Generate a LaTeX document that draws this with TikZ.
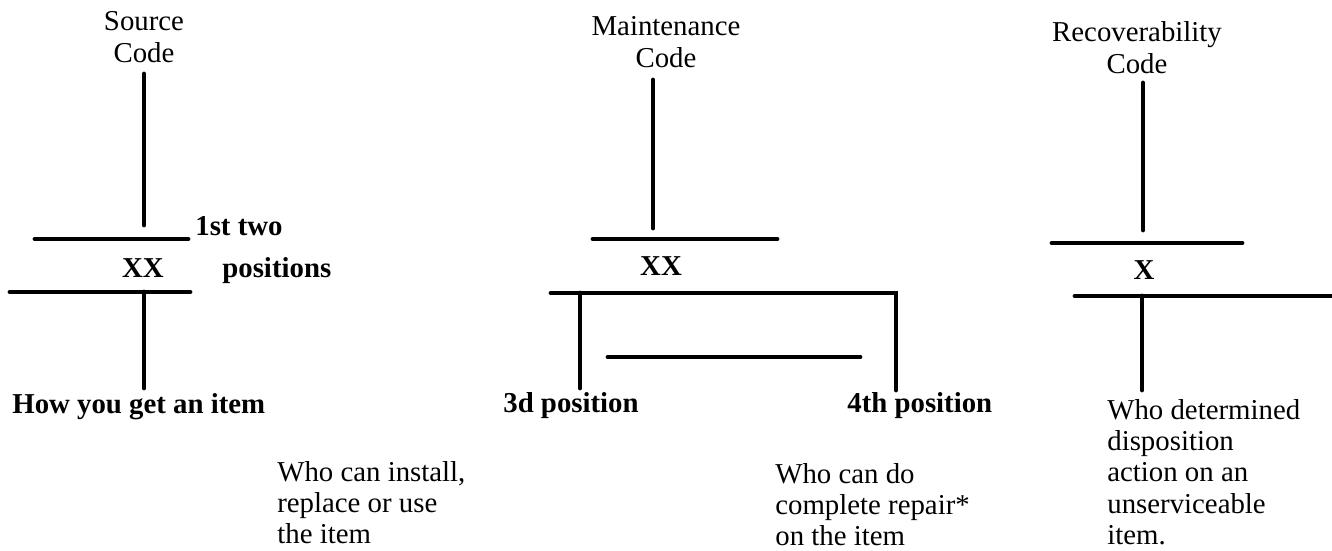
\documentclass[tikz,border=0pt]{standalone}
\usepackage{fontspec}
\setmainfont{Liberation Serif}
\usepackage{tikz}
\usetikzlibrary{calc}
\usetikzlibrary{positioning}
\newcommand{\txtsize}{\fontsize{16.4pt}{18.1pt}\selectfont}
\newcommand{\notesize}{\fontsize{16.4pt}{17.8pt}\selectfont}
\tikzstyle{bar}=[line width=2.8pt, line cap=round, line join=miter]
\tikzstyle{head}=[align=center, inner sep=0, anchor=north, font=\txtsize]
\tikzstyle{poslbl}=[inner sep=0, anchor=base west, font=\txtsize\bfseries]
\tikzstyle{codelbl}=[inner sep=0, anchor=base, font=\txtsize\bfseries]
\tikzstyle{note}=[align=left, inner sep=0, anchor=north west, font=\notesize]

\begin{document}
\begin{tikzpicture}[x=0.02cm, y=-0.02cm]
\useasboundingbox (0,0) rectangle (1332,551);
% source code
\node[head] (src) at (144,11.5) {Source\\Code};
\coordinate (S1) at (144,74);
\coordinate (S2) at (144,225);
\draw[bar] (S1) -- (S2);
\draw[bar] (35,239) coordinate (S3) -- (188,239) coordinate (S4);
\node[codelbl] (srcxx) at (143,277) {XX};
\node[poslbl] (srcpos) at (195,235) {1st two};
\node[poslbl] (srcpos2) at (222,277) {positions};
\draw[bar] (10,292) coordinate (S5) -- (190,292) coordinate (S6);
\coordinate (S7) at (144,292);
\coordinate (S8) at (144,388);
\draw[bar] (S7) -- (S8);
\node[poslbl] (srcwhat) at (12,413) {How you get an item};
\node[note] (srcwho) at (277,461) {Who can install,\\replace or use\\the item};
% maintenance code
\node[head] (mnt) at (666,15.8) {Maintenance\\Code};
\coordinate (M1) at (653,80);
\coordinate (M2) at (653,228);
\draw[bar] (M1) -- (M2);
\draw[bar] (593,239) coordinate (M3) -- (777,239) coordinate (M4);
\node[codelbl] (mntxx) at (661,275) {XX};
\coordinate (M5) at (551,293);
\coordinate (M6) at (896,293);
\coordinate (M7) at (896,390);
\draw[bar] (M5) -- (M6) -- (M7);
\coordinate (M8) at (580,293);
\coordinate (M9) at (580,388);
\draw[bar] (M8) -- (M9);
\draw[bar] (608,357) coordinate (M10) -- (860,357) coordinate (M11);
\node[poslbl] (mnt3) at (503,412) {3d position};
\node[poslbl] (mnt4) at (847,412) {4th position};
\node[note] (mntwho) at (775,463) {Who can do\\complete repair*\\on the item};
% recoverability code
\node[head] (rec) at (1137,21.2) {Recoverability\\Code};
\coordinate (R1) at (1143,83);
\coordinate (R2) at (1143,230);
\draw[bar] (R1) -- (R2);
\draw[bar] (1052,243) coordinate (R3) -- (1242,243) coordinate (R4);
\node[codelbl] (recx) at (1144,279) {X};
\draw[bar] (1075,296) coordinate (R5) -- (1334,296) coordinate (R6);
\coordinate (R7) at (1142,296);
\coordinate (R8) at (1142,390);
\draw[bar] (R7) -- (R8);
\node[note] (recwho) at (1107,399) {Who determined\\disposition\\action on an\\unserviceable\\item.};
\end{tikzpicture}
\end{document}
